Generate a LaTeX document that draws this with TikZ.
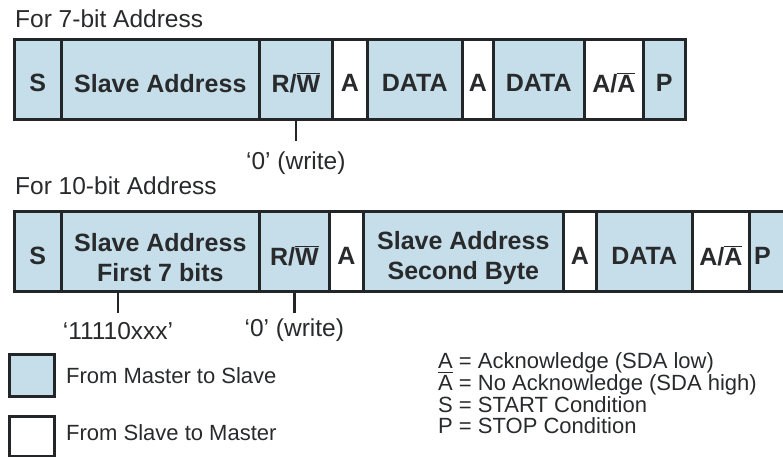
\documentclass[tikz,border=0pt]{standalone}
\usepackage{fontspec}
\setmainfont{Liberation Sans}
\usetikzlibrary{calc}
\definecolor{cellblue}{RGB}{198,222,233}
\definecolor{edge}{RGB}{35,38,40}
\definecolor{ink}{RGB}{40,42,44}
\newcommand\ovl[1]{\leavevmode\vbox{\hrule height 1.1pt\kern1.4pt\hbox{#1}}}
\begin{document}
\begin{tikzpicture}[x=1pt,y=-1pt,
  cell/.style={draw=edge, line width=2.6pt, rectangle, inner sep=0pt, anchor=north west,
    minimum height=80pt},
  mcell/.style={cell, fill=cellblue},
  scell/.style={cell, fill=white},
  ctext/.style={font=\fontsize{25}{29.5}\selectfont\bfseries, text=ink, align=center, inner sep=0pt},
  lbl/.style={font=\fontsize{24.5}{28}\selectfont, text=ink, inner sep=0pt},
  leg/.style={font=\fontsize{22}{22}\selectfont, text=ink, inner sep=0pt, anchor=base west},
  tickline/.style={draw=edge, line width=2.6pt},
  legbox/.style={draw=edge, line width=2.6pt, rectangle, inner sep=0pt, anchor=north west,
    minimum width=45pt, minimum height=42pt},
]
\useasboundingbox (0,0) rectangle (783,456);

% titles
\node[lbl, anchor=base west] (t7) at (15,27) {For 7-bit Address};
\node[lbl, anchor=base west] (t10) at (15,194) {For 10-bit Address};

% row 1 cells
\node[mcell, minimum width=47]  (a1) at (13,38)  {};
\node[mcell, minimum width=198] (a2) at (60,38)  {};
\node[mcell, minimum width=73]  (a3) at (258,38) {};
\node[scell, minimum width=35]  (a4) at (331,38) {};
\node[mcell, minimum width=95]  (a5) at (366,38) {};
\node[scell, minimum width=31]  (a6) at (461,38) {};
\node[mcell, minimum width=91]  (a7) at (492,38) {};
\node[scell, minimum width=59]  (a8) at (583,38) {};
\node[mcell, minimum width=42]  (a9) at (642,38) {};
% row 1 texts
\node[ctext] (a1t) at ($(a1.center)+(0,4)$) {S};
\node[ctext] (a2t) at ($(a2.center)+(0,4)$) {Slave Address};
\node[ctext] (a3t) at ($(a3.center)+(0,4)$) {R/\ovl{W}};
\node[ctext] (a4t) at ($(a4.center)+(0,4)$) {A};
\node[ctext] (a5t) at ($(a5.center)+(0,4)$) {DATA};
\node[ctext] (a6t) at ($(a6.center)+(0,4)$) {A};
\node[ctext] (a7t) at ($(a7.center)+(0,4)$) {DATA};
\node[ctext] (a8t) at ($(a8.center)+(0,4)$) {A/\ovl{A}};
\node[ctext] (a9t) at ($(a9.center)+(0,4)$) {P};

\coordinate (k1) at ($(a3.south)+(0,20)$);
\draw[tickline] (a3.south) -- (k1);
\node[lbl] (w1) at ($(a3.south)+(0,43)$) {‘0’ (write)};

% row 2 cells
\node[mcell, minimum width=47]  (b1) at (13,210)  {};
\node[mcell, minimum width=198] (b2) at (60,210)  {};
\node[mcell, minimum width=70]  (b3) at (258,210) {};
\node[scell, minimum width=34]  (b4) at (328,210) {};
\node[mcell, minimum width=200] (b5) at (362,210) {};
\node[scell, minimum width=33]  (b6) at (562,210) {};
\node[mcell, minimum width=96]  (b7) at (595,210) {};
\node[scell, minimum width=57]  (b8) at (691,210) {};
\node[mcell, minimum width=60]  (b9) at (748,210) {};
% row 2 texts
\node[ctext] (b1t) at ($(b1.center)+(0,5)$) {S};
\node[ctext] (b2t) at ($(b2.center)+(0,6.5)$) {Slave Address\\First 7 bits};
\node[ctext] (b3t) at ($(b3.center)+(0,5)$) {R/\ovl{W}};
\node[ctext] (b4t) at ($(b4.center)+(0,5)$) {A};
\node[ctext] (b5t) at ($(b5.center)+(0,6.5)$) {Slave Address\\Second Byte};
\node[ctext] (b6t) at ($(b6.center)+(0,5)$) {A};
\node[ctext] (b7t) at ($(b7.center)+(0,5)$) {DATA};
\node[ctext] (b8t) at ($(b8.center)+(0,5)$) {A/\ovl{A}};
\node[ctext, anchor=west] (b9t) at ($(b9.west)+(6,5)$) {P};

\coordinate (k2a) at ($(b2.south west)+(58,0)$);
\coordinate (k2b) at ($(k2a)+(0,20)$);
\draw[tickline] (k2a) -- (k2b);
\node[lbl] (x2) at ($(k2a)+(0,38)$) {‘11110xxx’};

\coordinate (k3) at ($(b3.south)+(0,20)$);
\draw[tickline] (b3.south) -- (k3);
\node[lbl] (w2) at ($(b3.south)+(0,38)$) {‘0’ (write)};

% legend boxes
\node[legbox, fill=cellblue] (lb1) at (8,353) {};
\node[legbox, fill=white, minimum height=40pt] (lb2) at (8,415) {};
\node[leg] (lt1) at (66,383) {From Master to Slave};
\node[leg] (lt2) at (66,440) {From Slave to Master};

% key
\node[leg] (k1t) at (438,368) {A = Acknowledge (SDA low)};
\node[leg] (k2t) at (438,390) {\ovl{A} = No Acknowledge (SDA high)};
\node[leg] (k3t) at (438,412) {S = START Condition};
\node[leg] (k4t) at (438,433) {P = STOP Condition};
\end{tikzpicture}
\end{document}
